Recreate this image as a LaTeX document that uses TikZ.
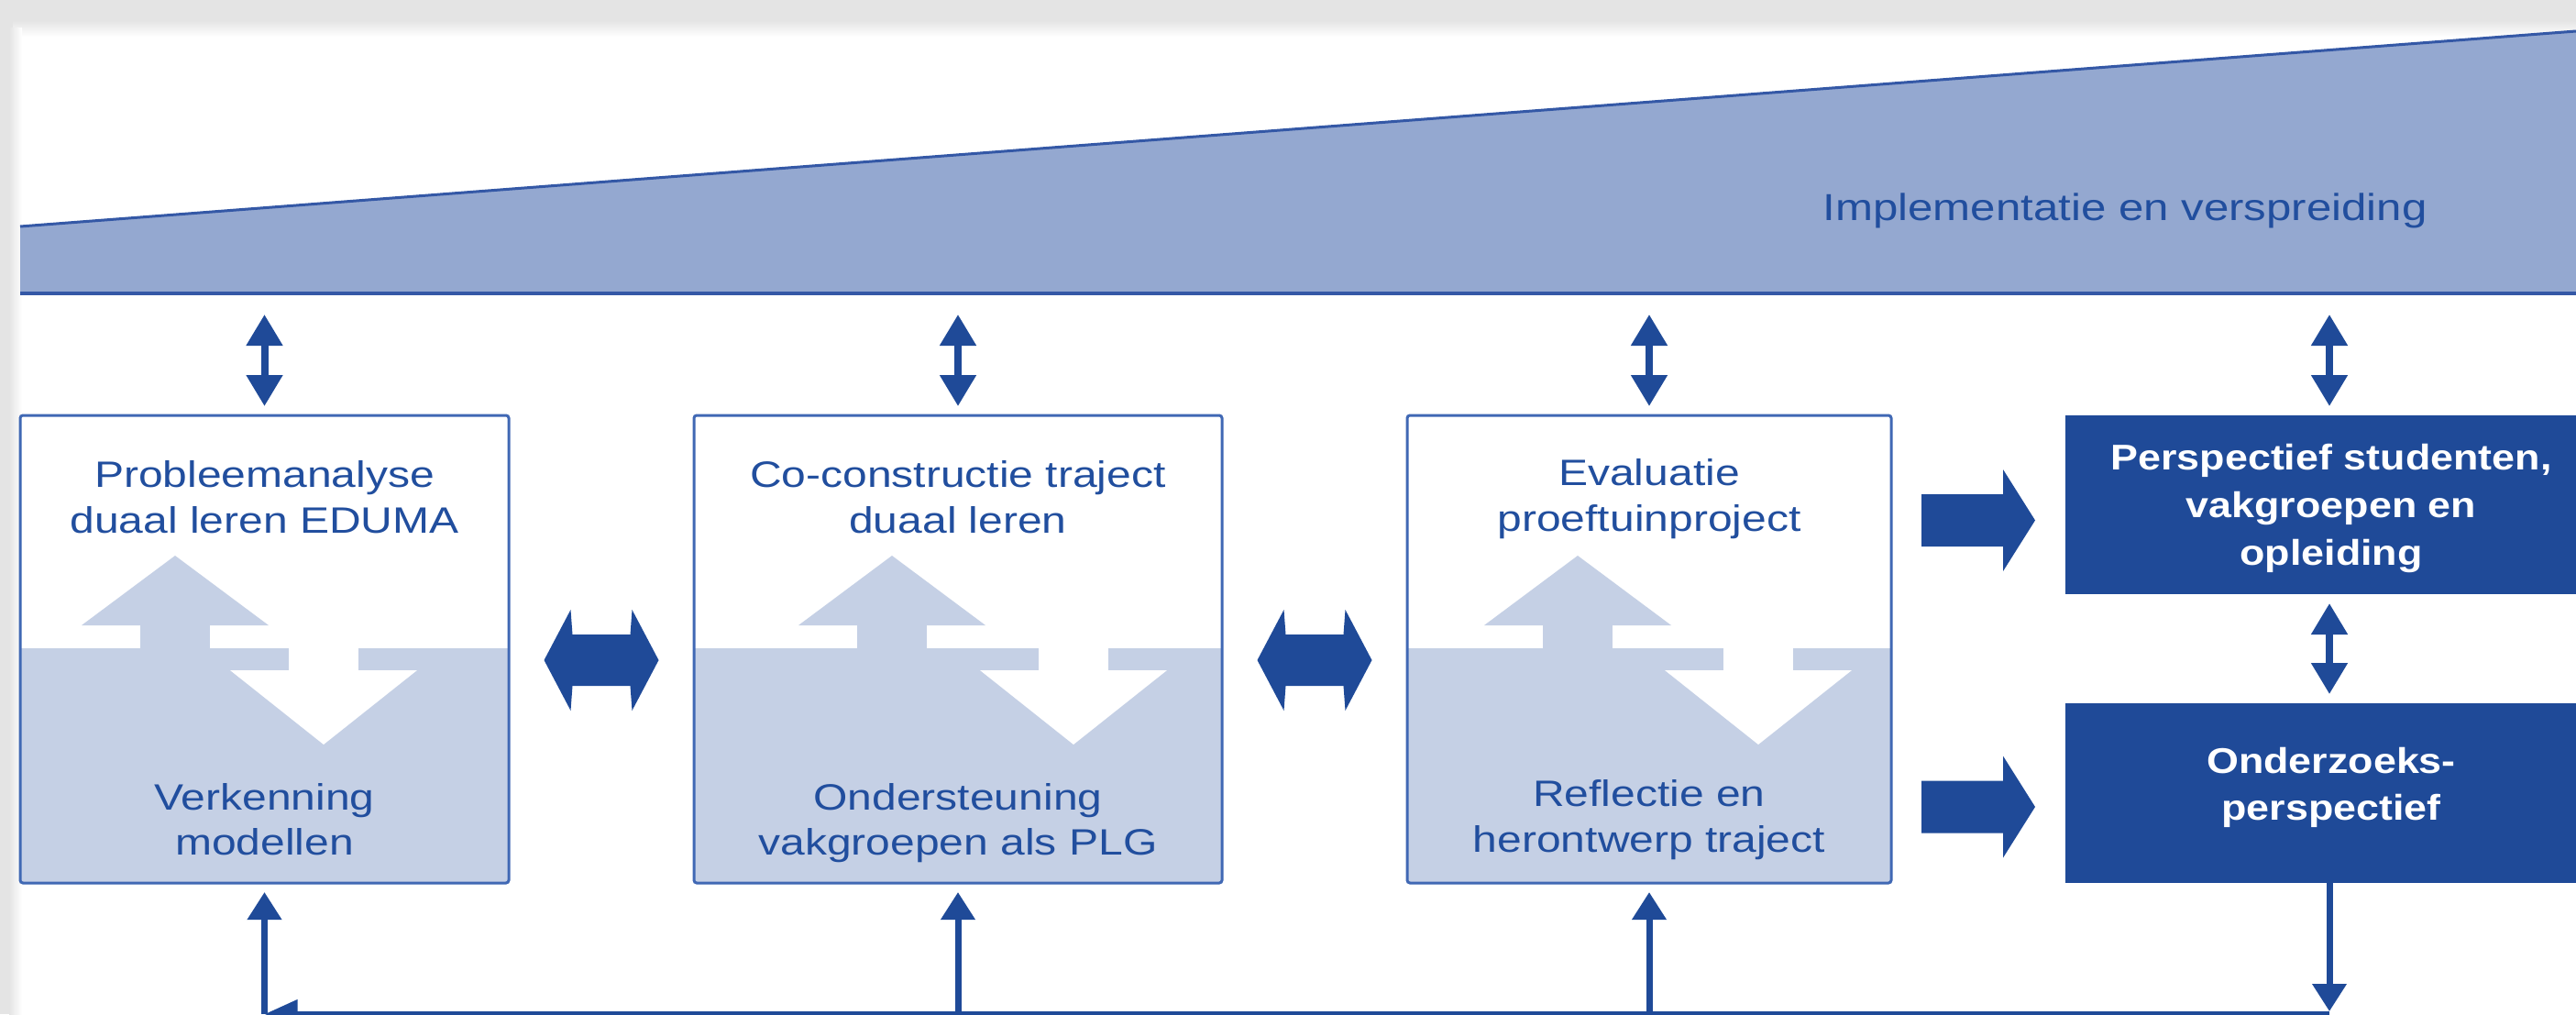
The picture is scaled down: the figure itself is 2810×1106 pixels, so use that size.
\documentclass[tikz,border=0pt]{standalone}
\usepackage{fontspec}
\setmainfont{Liberation Sans}[FakeStretch=1.2]
\newfontfamily\boldfam{Liberation Sans}[FakeStretch=1.15]
\usetikzlibrary{arrows.meta,calc}
\definecolor{dkblue}{RGB}{31,74,152}
\definecolor{txtblue}{RGB}{33,78,158}
\definecolor{brdblue}{RGB}{64,104,180}
\definecolor{shadeblue}{RGB}{197,208,229}
\definecolor{wedgeblue}{RGB}{148,168,208}
\definecolor{wedgeline}{RGB}{52,88,166}
\definecolor{bggray}{RGB}{228,228,228}
\begin{document}
\begin{tikzpicture}[x=1pt,y=-1pt,
  phase/.style={draw=brdblue, line width=3pt, rounded corners=3pt, minimum height=510pt, inner sep=0pt, outer sep=0pt},
  dkbox/.style={fill=dkblue, draw=none, minimum width=576pt, inner sep=0pt, outer sep=0pt},
  ltxt/.style={text=txtblue, font=\fontsize{40}{48}\selectfont, anchor=base, inner sep=0pt},
  wtxt/.style={text=white, font=\boldfam\bfseries\fontsize{39}{47}\selectfont, anchor=base, inner sep=0pt},
  vdbl/.style={draw=dkblue, line width=8pt, {Triangle[length=34pt,width=38pt]}-{Triangle[length=34pt,width=38pt]}, shorten <=23pt, shorten >=10pt},
  uparr/.style={draw=dkblue, line width=7pt, -{Triangle[length=30pt,width=36pt]}, shorten >=10pt},
  botline/.style={draw=dkblue, line width=7pt, -{Triangle[length=36pt,width=30pt]}},
  dblarrow/.pic={\fill[dkblue] (-62.5,0) -- (-33.5,-55) -- (-31.5,-28) -- (31.5,-28) -- (33.5,-55) -- (62.5,0) -- (33.5,55) -- (31.5,28) -- (-31.5,28) -- (-33.5,55) -- cycle;},
  rarrow/.pic={\fill[dkblue] (-62,-28.5) -- (27,-28.5) -- (27,-55.5) -- (62,0) -- (27,55.5) -- (27,28.5) -- (-62,28.5) -- cycle;}
]
\useasboundingbox (0,0) rectangle (2810,1106);
\clip (0,0) rectangle (2810,1106);
% background and margins
\fill[bggray] (0,0) rectangle (2810,1106);
\fill[white] (20,34) rectangle (2810,1106);
\shade[top color=bggray, bottom color=white] (14,22) rectangle (2810,40);
\shade[left color=bggray, right color=white] (10,30) rectangle (24,1106);
% wedge
\fill[wedgeblue] (22,247) -- (2810,34) -- (2810,320) -- (22,320) -- cycle;
\draw[wedgeline, line width=3pt] (22,247) -- (2810,34);
\draw[wedgeline, line width=4pt] (22,320) -- (2810,320);
\coordinate (wb) at (0,320);
\node[text=txtblue, font=\fontsize{41}{49}\selectfont, anchor=base, inner sep=0pt] (impl) at (2318,240) {Implementatie en verspreiding};
% phase box interiors
\foreach \xl/\xr/\ua/\da in {22/555/191/353, 757/1333/973/1171, 1535/2063/1721/1918}{
  \fill[shadeblue] (\xl,707) rectangle (\xr,963);
  \fill[white] ({\da-38},707) rectangle ({\da+38},731);
  \fill[white] ({\da-102},731) -- ({\da+102},731) -- (\da,812) -- cycle;
  \fill[shadeblue] ({\ua-38},682) rectangle ({\ua+38},707);
  \fill[shadeblue] ({\ua-102},682) -- ({\ua+102},682) -- (\ua,606) -- cycle;
}
% boxes
\node[phase, minimum width=533pt] (b1) at (288.5,708) {};
\node[phase, minimum width=576pt] (b2) at (1045,708) {};
\node[phase, minimum width=528pt] (b3) at (1799,708) {};
\node[dkbox, minimum height=195pt] (b4) at (2541,550.5) {};
\node[dkbox, minimum height=196pt] (b5) at (2541,865) {};
% texts
\node[ltxt] (t1a) at (288.5,531) {Probleemanalyse};
\node[ltxt] (t1b) at (288.5,581) {duaal leren EDUMA};
\node[ltxt] (t1c) at (288.5,883) {Verkenning};
\node[ltxt] (t1d) at (288.5,932) {modellen};
\node[ltxt] (t2a) at (1045,531) {Co-constructie traject};
\node[ltxt] (t2b) at (1045,581) {duaal leren};
\node[ltxt] (t2c) at (1045,883) {Ondersteuning};
\node[ltxt] (t2d) at (1045,932) {vakgroepen als PLG};
\node[ltxt] (t3a) at (1799,529) {Evaluatie};
\node[ltxt] (t3b) at (1799,579) {proeftuinproject};
\node[ltxt] (t3c) at (1799,879) {Reflectie en};
\node[ltxt] (t3d) at (1799,929) {herontwerp traject};
\node[wtxt] (t4a) at (2543,512) {Perspectief studenten,};
\node[wtxt] (t4b) at (2543,564) {vakgroepen en};
\node[wtxt] (t4c) at (2543,616) {opleiding};
\node[wtxt] (t5a) at (2543,843) {Onderzoeks-};
\node[wtxt] (t5b) at (2543,894) {perspectief};
% thick arrows between boxes
\coordinate (m12) at ($(b1.east)!0.5!(b2.west)+(0,-12pt)$);
\coordinate (m23) at ($(b2.east)!0.5!(b3.west)+(0,-12pt)$);
\pic at (m12) {dblarrow};
\pic at (m23) {dblarrow};
\coordinate (m34) at ($(b3.east)!0.5!(b4.west)$);
\coordinate (r1) at ($(m34 |- b4.center)+(0,-17pt)$);
\coordinate (r2) at ($(m34 |- b5.center)+(0,-15pt)$);
\pic at (r1) {rarrow};
\pic at (r2) {rarrow};
% vertical double arrows from the wedge
\draw[vdbl] (b1.north |- wb) -- (b1.north);
\draw[vdbl] (b2.north |- wb) -- (b2.north);
\draw[vdbl] (b3.north |- wb) -- (b3.north);
\draw[vdbl] (b4.north |- wb) -- (b4.north);
\draw[vdbl, shorten <=10pt, shorten >=10pt] (b4.south) -- (b5.north);
% bottom feedback loop
\coordinate (bl) at (288.5,1106);
\coordinate (br) at (2541,1106);
\draw[uparr, shorten >=3pt] (b5.south) -- (br);
\draw[botline] (br) -- (bl);
\draw[uparr] (bl) -- (b1.south);
\draw[uparr] (b2.south |- bl) -- (b2.south);
\draw[uparr] (b3.south |- bl) -- (b3.south);
\end{tikzpicture}
\end{document}
